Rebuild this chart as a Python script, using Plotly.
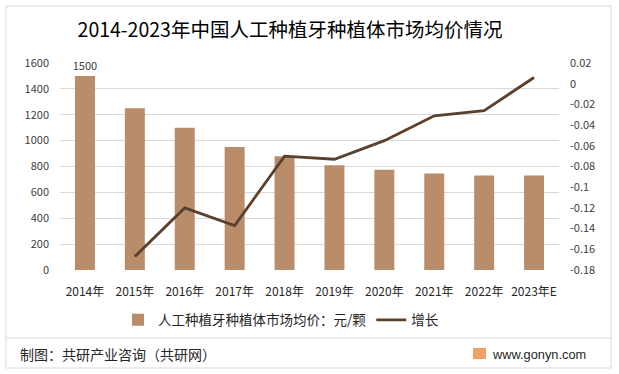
import plotly.graph_objects as go

categories = ["2014年", "2015年", "2016年", "2017年", "2018年", "2019年", "2020年", "2021年", "2022年", "2023年E"]
avg_price = [1500, 1250, 1100, 950, 880, 810, 775, 745, 730, 730]
growth_years = categories[1:]
growth = [-0.167, -0.12, -0.137, -0.07, -0.073, -0.055, -0.031, -0.026, 0.006]
y2_ticks = [0.02, 0, -0.02, -0.04, -0.06, -0.08, -0.1, -0.12, -0.14, -0.16, -0.18]
y2_labels = ["0.02", "0", "-0.02", "-0.04", "-0.06", "-0.08", "-0.1", "-0.12", "-0.14", "-0.16", "-0.18"]

W, H = 619, 374
L, R, T, B = 60, 559, 63, 270

def px(x):
    return (x - L) / (R - L)

def py(y):
    return (B - y) / (B - T)

CJK = "Noto Sans CJK SC"
bar_color = "#B98C6A"
line_color = "#5B402C"

fig = go.Figure()
fig.add_trace(go.Bar(
    x=categories, y=avg_price, name="人工种植牙种植体市场均价：元/颗",
    marker=dict(color=bar_color, line=dict(width=0)), width=0.4,
    text=["1500"] + [""] * (len(avg_price) - 1), textposition="outside", constraintext="none",
    textfont=dict(size=11, color="#404040", family=CJK), cliponaxis=False,
))
fig.add_trace(go.Scatter(
    x=growth_years, y=growth, name="增长", yaxis="y2", mode="lines",
    line=dict(color=line_color, width=2.8),
))

fig.update_layout(
    width=W, height=H,
    margin=dict(l=L, r=W - R, t=T, b=H - B, autoexpand=False),
    paper_bgcolor="white", plot_bgcolor="white",
    font=dict(family=CJK, color="#404040"),
    showlegend=True,
    legend=dict(orientation="h", x=px(281), y=py(320), xanchor="center", yanchor="middle",
                font=dict(size=13.5, color="#262626", family=CJK), itemwidth=30,
                bgcolor="rgba(0,0,0,0)"),
    xaxis=dict(showgrid=False, showline=False, ticks="", tickfont=dict(size=12, color="#262626"),
               tickangle=0, ticklabelstandoff=13),
    yaxis=dict(range=[0, 1600], dtick=200, showgrid=True, gridcolor="#D9D9D9", gridwidth=1,
               zeroline=False, showline=False, ticks="", tickfont=dict(size=11, color="#404040"),
               ticklabelstandoff=10),
    yaxis2=dict(range=[-0.18, 0.02], overlaying="y", side="right", tickvals=y2_ticks, ticktext=y2_labels,
                showgrid=False, zeroline=False, showline=False, ticks="",
                tickfont=dict(size=11, color="#404040"), ticklabelstandoff=10),
    title=dict(text="2014-2023年中国人工种植牙种植体市场均价情况", x=290 / W, xanchor="center",
               y=1 - 30 / H, yanchor="middle", font=dict(size=19.5, color="#000000", family=CJK)),
)

shapes = [
    dict(type="rect", xref="paper", yref="paper", x0=px(6), x1=px(611), y0=py(368), y1=py(6),
         line=dict(color="#D9D9D9", width=1), fillcolor="rgba(0,0,0,0)", layer="below"),
    dict(type="line", xref="paper", yref="paper", x0=px(6), x1=px(611), y0=py(338), y1=py(338),
         line=dict(color="#D9D9D9", width=1)),
    dict(type="rect", xref="paper", yref="paper", x0=px(473), x1=px(486), y0=py(359), y1=py(348),
         line=dict(width=0), fillcolor="#F0A060"),
]
fig.update_layout(shapes=shapes)

fig.add_annotation(text="制图：共研产业咨询（共研网）", xref="paper", yref="paper", x=px(18), y=py(354),
                   xanchor="left", yanchor="middle", showarrow=False,
                   font=dict(size=14, color="#262626", family=CJK))
fig.add_annotation(text="www.gonyn.com", xref="paper", yref="paper", x=px(588), y=py(354),
                   xanchor="right", yanchor="middle", showarrow=False,
                   font=dict(size=12.8, color="#262626", family="Liberation Sans"))

fig.write_html("out.html", config={"displayModeBar": False},
               post_script="document.body.style.margin='0px';document.body.style.overflow='hidden';")
